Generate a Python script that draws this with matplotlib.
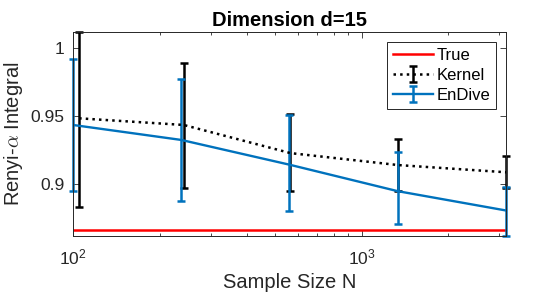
import numpy as np
import matplotlib
matplotlib.use('Agg')
import matplotlib.pyplot as plt
from matplotlib.ticker import LogLocator, NullFormatter, FixedLocator

plt.rcParams['font.family'] = ['Liberation Sans', 'DejaVu Sans']
plt.rcParams['mathtext.fontset'] = 'cm'

# data
n_endive = [100, 237, 562, 1334, 3162]
n_kernel = [105, 242, 567, 1339, 3167]
true_val = 0.8664

endive_mean = [0.9434, 0.9324, 0.9142, 0.8947, 0.8805]
endive_low = [0.8951, 0.8878, 0.8800, 0.8707, 0.8617]
endive_high = [0.9919, 0.9773, 0.9505, 0.9236, 0.8980]

kernel_mean = [0.9483, 0.9434, 0.9227, 0.9139, 0.9086]
kernel_low = [0.8830, 0.8969, 0.8950, 0.8950, 0.8969]
kernel_high = [1.0118, 0.9890, 0.9515, 0.9329, 0.9207]

blue = '#0072BD'
grey = '#262626'

fig = plt.figure(figsize=(5.6, 3.0), dpi=100)
ax = fig.add_axes([0.1304, 0.2133, 0.7732, 0.68])

ax.plot([n_endive[0], n_kernel[-1]], [true_val, true_val], color='red', lw=1.8, label='True')

km = np.array(kernel_mean)
eb1 = ax.errorbar(n_kernel, km, yerr=[km - np.array(kernel_low), np.array(kernel_high) - km],
                  color='black', ls=':', lw=1.8, elinewidth=1.8, capsize=3, capthick=1.8,
                  label='Kernel')
em = np.array(endive_mean)
eb2 = ax.errorbar(n_endive, em, yerr=[em - np.array(endive_low), np.array(endive_high) - em],
                  color=blue, ls='-', lw=1.7, elinewidth=1.8, capsize=3, capthick=1.8,
                  label='EnDive')
for eb in (eb1, eb2):
    for art in eb.lines[1]:
        art.set_clip_on(False)
    for art in eb.lines[2]:
        art.set_clip_on(False)

ax.set_xscale('log')
ax.set_xlim(n_endive[0], n_kernel[-1])
ax.set_ylim(min(endive_low), max(kernel_high))
ax.set_yticks([0.9, 0.95, 1])
ax.set_yticklabels(['0.9', '0.95', '1'])
ax.xaxis.set_major_locator(FixedLocator([100, 1000]))
ax.set_xticklabels(['$\\mathregular{10^2}$', '$\\mathregular{10^3}$'])
ax.xaxis.set_minor_locator(LogLocator(base=10, subs=np.arange(2, 10)))
ax.xaxis.set_minor_formatter(NullFormatter())

ax.tick_params(which='both', direction='in', top=True, right=True, colors=grey,
               labelsize=12.5, labelcolor=grey)
ax.tick_params(which='major', length=4, width=0.6)
ax.tick_params(which='minor', length=2.5, width=0.6)
ax.tick_params(axis='x', pad=8)
ax.tick_params(axis='y', pad=6)
for s in ax.spines.values():
    s.set_color(grey)
    s.set_linewidth(0.7)

ax.set_xlabel('Sample Size N', fontsize=14.5, color=grey, labelpad=4)
ax.set_ylabel('Renyi-$\\alpha$ Integral', fontsize=14.5, color=grey, labelpad=4)
ax.set_title('Dimension d=15', fontsize=14.5, fontweight='bold', pad=4)

leg = ax.legend(loc='upper right', fontsize=12, fancybox=False, framealpha=1,
                edgecolor=grey, borderpad=0.35, handlelength=2.4, labelspacing=0.3,
                handletextpad=0.2, borderaxespad=0.6)
leg.get_frame().set_linewidth(0.7)

fig.savefig('out.png', dpi=100)
